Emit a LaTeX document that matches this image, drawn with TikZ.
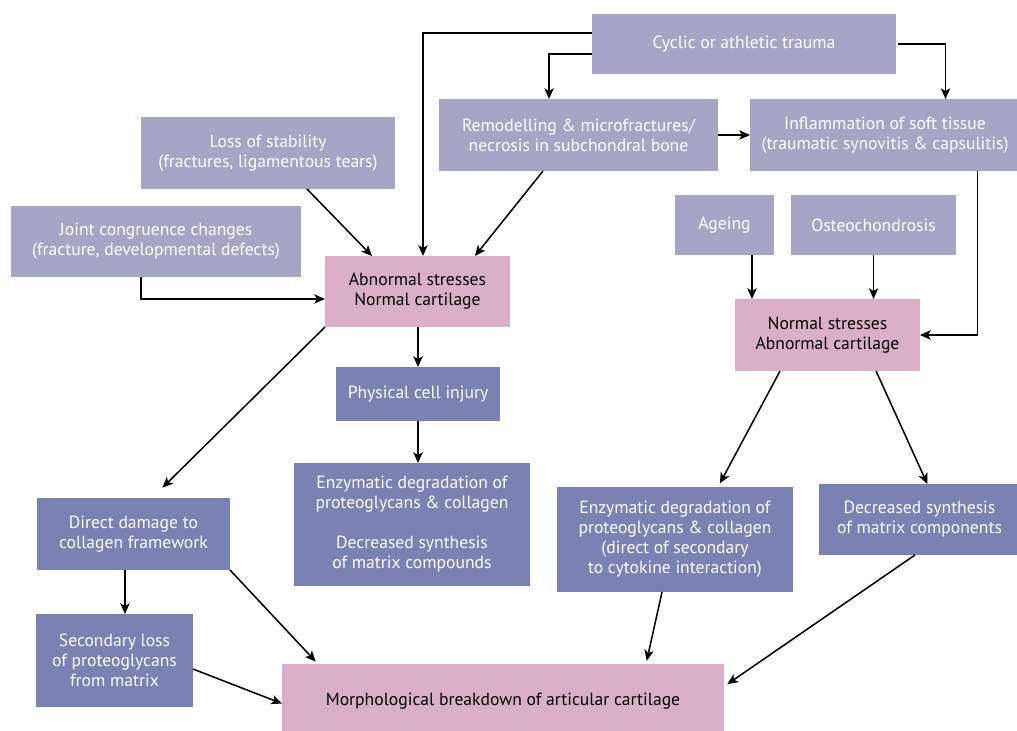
\documentclass[tikz,border=0pt]{standalone}
\usepackage{fontspec}
\setmainfont{PT Sans}
\usetikzlibrary{arrows.meta}
\definecolor{lightbox}{HTML}{A6A5C6}
\definecolor{darkbox}{HTML}{7A81B3}
\definecolor{pinkbox}{HTML}{D9B0C8}
\newcommand\mybox[7]{\node[#6, minimum width={(#4-#2)*0.75pt}, minimum height={(#5-#3)*0.75pt}] (#1) at ({(#2+#4)/2},{(#3+#5)/2}) {#7};}
\begin{document}
\begin{tikzpicture}[x=0.75pt,y=-0.75pt,
  base/.style={inner sep=0pt, outer sep=0pt, align=center, font=\fontsize{13.2pt}{15pt}\selectfont},
  lbox/.style={base, fill=lightbox, text=white},
  dbox/.style={base, fill=darkbox, text=white},
  pbox/.style={base, fill=pinkbox, text=black},
  arr/.style={line width=1.15pt, -{Stealth[length=8pt, width=7pt, inset=2pt]}}]
\useasboundingbox (0,0) rectangle (1017,731);
\begin{scope}
\clip (0,0) rectangle (1017,731);
\mybox{cyc}{592}{14}{896}{74}{lbox}{Cyclic or athletic trauma}
\mybox{rem}{439}{99}{718}{171}{lbox}{Remodelling \& microfractures/\\necrosis in subchondral bone}
\mybox{inf}{750}{99}{1020}{171}{lbox}{Inflammation of soft tissue\\(traumatic synovitis \& capsulitis)}
\mybox{loss}{141}{117}{395}{189}{lbox}{Loss of stability\\(fractures, ligamentous tears)}
\mybox{joint}{11}{206}{301}{277}{lbox}{Joint congruence changes\\(fracture, developmental defects)}
\mybox{abn}{325}{256}{510}{327}{pbox}{Abnormal stresses\\Normal cartilage}
\mybox{age}{675}{195}{774}{255}{lbox}{Ageing}
\mybox{ost}{791}{195}{956}{255}{lbox}{Osteochondrosis}
\mybox{nor}{735}{299}{920}{371}{pbox}{Normal stresses\\Abnormal cartilage}
\mybox{phy}{336}{367}{500}{421}{dbox}{Physical cell injury}
\mybox{enzl}{294}{463}{530}{586}{dbox}{Enzymatic degradation of\\proteoglycans \& collagen\\[15pt]Decreased synthesis\\of matrix compounds}
\mybox{dir}{37}{498}{230}{570}{dbox}{Direct damage to\\collagen framework}
\mybox{sec}{36}{614}{193}{707}{dbox}{Secondary loss\\of proteoglycans\\from matrix}
\mybox{mor}{282}{664}{724}{738}{pbox}{Morphological breakdown of articular cartilage}
\mybox{enzr}{557}{487}{793}{592}{dbox}{Enzymatic degradation of\\proteoglycans \& collagen\\(direct of secondary\\to cytokine interaction)}
\mybox{dec}{819}{484}{1020}{555}{dbox}{Decreased synthesis\\of matrix components}
\end{scope}
% connectors
\draw[arr] ([yshift=8.25pt]cyc.west) -| ([xshift=4.1pt]abn.north);
\draw[arr] ([yshift=-7.5pt]cyc.west) -| ([xshift=-22.1pt]rem.north);
\draw[arr] ([xshift=1.5pt]cyc.east) -| ([xshift=45.4pt]inf.north);
\draw[arr] (rem.east) -- (inf.west);
\draw[arr] ([xshift=-26.6pt]rem.south) -- ([xshift=43.1pt]abn.north);
\draw[arr] ([xshift=29.25pt]loss.south) -- ([xshift=-34.1pt]abn.north);
\draw[arr] ([xshift=-11.25pt]joint.south) |- ([yshift=-5.6pt]abn.west);
\draw[arr] ([xshift=69.4pt]inf.south) |- (nor.east);
\draw[arr] ([xshift=20.6pt]age.south) -- ([xshift=20.6pt]age.south |- nor.north);
\draw[arr] (ost.south) -- (ost.south |- nor.north);
\draw[arr] (phy.north |- abn.south) -- (phy.north);
\draw[arr] (phy.south) -- (phy.south |- enzl.north);
\draw[arr, shorten >=11pt] (abn.south west) -- ([xshift=13.9pt]dir.north);
\draw[arr] ([xshift=-6.4pt]dir.south) -- ([xshift=-6.4pt]dir.south |- sec.north);
\draw[arr, shorten >=2.5pt] (dir.south east) -- ([xshift=-138.75pt]mor.north);
\draw[arr] ([yshift=-6.4pt]sec.east) -- ([yshift=-1.9pt]mor.west);
\draw[arr, shorten >=3pt] ([xshift=-35.6pt]nor.south) -- ([xshift=32.25pt]enzr.north);
\draw[arr] ([xshift=36.4pt]nor.south) -- ([xshift=5.9pt]dec.north);
\draw[arr, shorten >=2.5pt] ([xshift=-9.75pt]enzr.south) -- ([xshift=107.25pt]mor.north);
\draw[arr, shorten >=3pt] ([xshift=-3.4pt]dec.south) -- ([yshift=10.9pt]mor.east);
\end{tikzpicture}
\end{document}
